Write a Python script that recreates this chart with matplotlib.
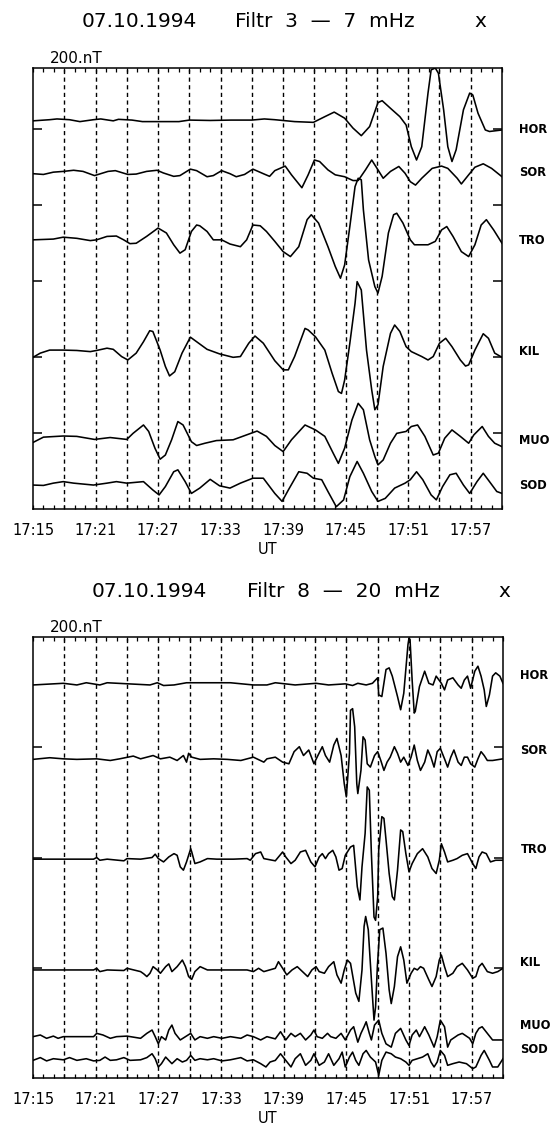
import matplotlib
matplotlib.use("Agg")
import matplotlib.pyplot as plt
from matplotlib.ticker import MultipleLocator

plt.rcParams["font.family"] = ["DejaVu Sans"]

# ---- common ----
stations = ["HOR", "SOR", "TRO", "KIL", "MUO", "SOD"]
tick_minutes = [0, 6, 12, 18, 24, 30, 36, 42]   # minutes after 17:15 UT
tick_labels = ["17:15", "17:21", "17:27", "17:33", "17:39", "17:45", "17:51", "17:57"]
date_str = "07.10.1994"

# ---- panel 1: filter 3 - 7 mHz (nT, trace offsets on the 200 nT grid) ----
p1_filter = "Filtr  3  —  7  mHz"
p1_offsets = [1021, 884, 708, 400, 187, 66]
p1_label_y = [997, 886, 707, 413, 181, 63]
p1_yticks = [200, 400, 600, 800, 1000]

p1_hor_t = [0, 1.6, 2.3, 3.5, 4.5, 5.8, 6.5, 7.7, 8.2, 9.5, 10.5, 12, 14, 15, 17, 19, 21, 22.2, 23.2, 25.1,
            26.9, 28.0, 28.9, 29.9, 30.7, 31.5, 32.3, 33.1, 33.5, 34.3, 35.2, 35.8, 36.3, 36.8, 37.3, 37.9,
            38.2, 38.6, 38.9, 39.4, 39.8, 40.2, 40.6, 41.3, 41.9, 42.2, 42.7, 43.4, 43.8, 45.0]
p1_hor_v = [0, 3, 5, 3, -2, 3, 5, 0, 4, 2, -2, -2, -2, 2, 1, 2, 2, 5, 3, -2,
            -4, 11, 23, 7, -19, -39, -15, 48, 53, 33, 11, -11, -68, -103, -68, 73,
            134, 139, 125, 29, -68, -107, -76, 29, 73, 68, 20, -24, -28, -24]

p1_sor_t = [0, 1.0, 1.95, 2.9, 3.9, 4.8, 5.9, 7.2, 7.9, 9.1, 9.9, 10.9, 11.9, 12.5, 13.5, 14.1, 15.1, 15.7,
            16.7, 17.3, 18.1, 18.9, 19.5, 20.3, 21.1, 22.1, 22.7, 23.2, 24.2, 24.8, 25.8, 26.4, 27.0, 27.5,
            28.3, 29.0, 29.9, 30.7, 31.2, 31.9, 32.5, 33.1, 33.6, 34.3, 35.1, 35.7, 36.2, 36.7, 37.3, 38.3,
            39.2, 39.8, 40.7, 41.1, 41.8, 42.4, 43.2, 44.0, 45.0]
p1_sor_v = [-2, -4, 2, 4, 7, 4, -7, 4, 6, -4, -3, 4, 7, 0, -9, -7, 10, 6,
            -10, -7, 6, -2, -10, -4, 10, -2, -9, 6, 18, -5, -39, -5, 34, 30,
            8, -5, -10, -20, -20, 8, 34, 8, -14, 4, 17, -1, -23, -32, -14, 12,
            18, 12, -14, -29, -5, 15, 24, 12, -10]

p1_tro_t = [0, 1.95, 2.9, 4.2, 5.5, 6.1, 7.1, 8.0, 8.7, 9.3, 9.9, 10.9, 12.0, 12.8, 13.5, 14.1, 14.6, 15.2,
            15.7, 16.0, 16.7, 17.3, 18.1, 18.9, 19.9, 20.5, 21.1, 21.8, 22.4, 23.2, 24.0, 24.7, 25.5, 26.3,
            26.7, 27.4, 28.3, 29.0, 29.5, 29.9, 30.4, 30.9, 31.2, 31.5, 31.7, 32.2, 32.8, 33.1, 33.5, 34.1,
            34.6, 34.9, 35.5, 36.2, 36.6, 37.9, 38.6, 39.2, 39.7, 40.3, 41.1, 41.8, 42.4, 43.0, 43.5, 44.2, 45.0]
p1_tro_v = [0, 2, 7, 4, -2, 0, 9, 10, 0, -10, -9, 9, 31, 18, -13, -35, -26, 22,
            39, 37, 22, 0, 0, -11, -18, 0, 39, 37, 22, -4, -31, -44, -18, 53,
            66, 44, -18, -70, -101, -66, 35, 140, 162, 158, 79, -53, -123, -140, -96, 18,
            66, 70, 44, 0, -13, -13, -4, 26, 35, 9, -31, -44, -13, 39, 53, 26, -9]

p1_kil_t = [0, 0.7, 1.6, 2.9, 4.2, 5.5, 6.1, 7.1, 7.7, 8.5, 9.1, 9.9, 10.6, 11.2, 11.5, 12.2, 12.7, 13.1,
            13.6, 14.3, 15.1, 15.7, 16.7, 17.9, 19.2, 19.9, 20.7, 21.3, 22.1, 23.2, 24.0, 24.5, 25.1, 26.1,
            26.4, 27.1, 28.0, 28.7, 29.3, 29.6, 29.9, 30.4, 30.9, 31.1, 31.5, 32.0, 32.5, 32.8, 33.1, 33.6,
            34.3, 34.7, 35.2, 35.8, 36.3, 37.3, 37.9, 38.4, 39.0, 39.6, 40.2, 41.0, 41.5, 41.8, 42.4, 43.2,
            43.7, 44.3, 45.0]
p1_kil_v = [-1, 10, 18, 18, 17, 14, 17, 23, 20, 1, -8, 10, 40, 69, 67, 18, -25, -50,
            -39, 10, 52, 40, 20, 8, -1, 1, 36, 55, 36, -10, -34, -34, 1, 75,
            71, 53, 18, -43, -91, -96, -61, 36, 141, 198, 176, 18, -87, -139, -126, -25,
            62, 84, 67, 27, 14, 1, -8, 1, 36, 49, 27, -8, -24, -21, 18, 61,
            49, 10, -1]

p1_muo_t = [0, 1.0, 2.9, 4.2, 5.9, 7.4, 9.0, 9.6, 10.6, 11.1, 11.7, 12.2, 12.7, 13.3, 13.9, 14.4, 15.2, 15.7,
            16.5, 17.6, 19.2, 20.5, 21.5, 22.4, 23.2, 24.0, 24.8, 26.1, 27.1, 28.0, 28.8, 29.3, 29.9, 30.6,
            31.2, 31.7, 32.3, 32.8, 33.1, 33.6, 34.3, 34.9, 35.8, 36.3, 36.9, 37.6, 38.4, 38.9, 39.5, 40.2,
            41.0, 41.8, 42.3, 43.1, 43.7, 44.3, 45.0]
p1_muo_v = [-12, 2, 5, 4, -4, 1, -4, 12, 34, 17, -27, -56, -45, -5, 43, 34, -10, -20,
            -14, -7, -5, 8, 18, 4, -20, -36, -5, 34, 21, 4, -40, -67, -27, 47,
            91, 74, -5, -49, -71, -58, -14, 12, 17, 30, 34, 4, -45, -40, -1, 21,
            4, -14, 8, 30, 4, -14, -23]

p1_sod_t = [0, 1.0, 1.95, 2.9, 3.9, 5.8, 7.1, 8.0, 9.0, 10.6, 11.5, 12.1, 12.7, 13.5, 13.9, 14.6, 15.2, 16.0,
            17.0, 17.9, 18.9, 19.9, 21.1, 22.1, 23.2, 23.9, 24.5, 25.5, 26.3, 26.9, 27.7, 28.3, 29.1, 29.8,
            30.4, 31.1, 31.7, 32.5, 33.1, 33.8, 34.7, 35.7, 36.2, 36.8, 37.4, 38.2, 38.7, 39.3, 40.0, 40.6,
            41.3, 41.9, 42.6, 43.2, 43.8, 44.5, 45.0]
p1_sod_v = [-3, -4, 2, 6, 2, -3, 2, 6, 2, 6, -16, -29, -7, 32, 37, 6, -25, -11,
            12, -5, -11, 2, 15, 15, -25, -46, -16, 32, 28, 15, 11, -20, -60, -42,
            19, 59, 28, -20, -46, -38, -11, 2, 11, 32, 11, -29, -42, -7, 24, 28,
            -3, -25, 6, 28, 6, -20, -25]

# ---- panel 2: filter 8 - 20 mHz ----
p2_filter = "Filtr  8  —  20  mHz"
p2_offsets = [717, 580, 397, 196, 74, 34]
p2_label_y = [731, 595, 414, 209, 96, 51]
p2_yticks = [200, 400, 600]

p2_hor_t = [0, 2.9, 4.2, 5.1, 6.4, 7.1, 11.2, 11.9, 12.5, 13.5, 14.7, 18.9, 21.1, 22.4, 23.2, 25.1, 27.1,
            28.3, 29.9, 30.6, 31.1, 31.9, 32.5, 33.0, 33.1, 33.4, 33.8, 34.1, 34.4, 34.9, 35.2, 35.5, 35.9,
            36.0, 36.1, 36.3, 36.5, 36.6, 37.0, 37.5, 37.9, 38.3, 38.6, 39.1, 39.4, 39.7, 40.2, 40.7, 41.0,
            41.3, 41.6, 41.9, 42.3, 42.6, 42.9, 43.2, 43.4, 43.7, 44.0, 44.3, 44.7, 45.0]
p2_hor_v = [-4, -1, -4, 0, -4, 0, -4, 0, -5, -4, 0, 0, -4, -4, 0, -4, -1,
            -4, -2, -5, -1, -4, -1, 9, -22, -25, 24, 27, 12, -25, -49, -19, 69,
            81, 78, 5, -55, -52, -7, 21, -1, -4, 12, -1, -13, 5, 9, -4, -10,
            5, 12, -10, 21, 30, 12, -13, -43, -22, 12, 18, 12, -1]

p2_sor_t = [0, 1.6, 2.9, 4.2, 6.1, 7.4, 8.3, 9.6, 10.3, 11.5, 12.2, 13.1, 13.8, 14.4, 14.7, 14.9, 15.2, 16.0,
            17.3, 18.6, 19.9, 20.5, 21.1, 22.1, 22.4, 23.2, 23.9, 24.5, 25.0, 25.5, 25.9, 26.4, 26.9, 27.2,
            27.7, 28.0, 28.4, 28.8, 29.1, 29.5, 29.8, 30.0, 30.3, 30.4, 30.6, 30.8, 31.0, 31.1, 31.4, 31.6,
            31.8, 32.0, 32.3, 32.7, 33.0, 33.3, 33.6, 33.9, 34.2, 34.6, 34.9, 35.2, 35.5, 35.9, 36.2, 36.5,
            36.8, 37.1, 37.5, 37.8, 38.1, 38.4, 38.7, 39.0, 39.4, 39.7, 40.0, 40.3, 40.7, 41.0, 41.3, 41.6,
            41.9, 42.3, 42.6, 42.9, 43.2, 43.5, 44.0, 45.0]
p2_sor_v = [-2, 1, -1, -2, -1, -4, -1, 4, -1, 5, -1, 2, -4, 5, -7, 9, 2, -2,
            -1, -2, -4, -1, 2, -7, -1, 2, -7, -10, 12, 21, 5, 15, -10, 2,
            21, 5, -7, 24, 36, 5, -46, -70, 9, 87, 90, 57, -46, -64, -22, 39,
            33, -10, -16, 5, 12, -4, -22, -7, 2, 21, 9, -7, 2, -13, 2, 24,
            -4, -22, -7, 15, 2, -16, 12, 18, -1, -16, 2, 15, -7, -13, 2, 2,
            -10, -16, -1, 12, 5, -4, -4, -1]

p2_tro_t = [0, 5.8, 6.1, 6.4, 7.1, 8.7, 9.0, 10.3, 11.4, 11.7, 12.0, 12.5, 13.0, 13.5, 13.8, 14.1, 14.4, 14.7,
            15.1, 15.2, 15.5, 16.0, 16.7, 17.6, 19.2, 20.5, 20.8, 21.3, 21.8, 22.1, 23.2, 23.9, 24.2, 24.7,
            25.1, 25.6, 26.1, 26.6, 27.0, 27.4, 27.7, 28.0, 28.3, 28.7, 29.0, 29.3, 29.6, 29.9, 30.4, 30.7,
            31.05, 31.3, 31.5, 31.8, 32.0, 32.2, 32.4, 32.65, 32.8, 33.0, 33.1, 33.4, 33.6, 33.8, 34.1, 34.4,
            34.6, 34.9, 35.2, 35.4, 35.7, 36.0, 36.3, 36.8, 37.3, 37.8, 38.2, 38.6, 38.9, 39.1, 39.4, 39.7,
            40.2, 40.6, 41.1, 41.6, 42.1, 42.4, 42.7, 43.0, 43.4, 43.8, 44.3, 45.0]
p2_tro_v = [0, 0, 3, -2, 0, -3, 1, 0, 3, 9, 1, -5, 4, 10, 7, -14, -20, -5,
            19, 13, -8, -5, 1, 0, 0, 1, -2, 10, 13, 1, -3, 13, 4, -8,
            -2, 13, 16, -5, -14, 4, 10, 1, 10, 16, 4, -20, -17, 7, 22, 25,
            -50, -74, -14, 47, 131, 125, 10, -105, -111, -68, 16, 77, 74, 35, -26, -68,
            -74, -20, 53, 50, 10, -23, -8, 10, 19, 4, -17, -26, -2, 28, 13, -5,
            -2, 1, 7, 10, -8, -17, 4, 13, 10, -5, -2, -2]

p2_kil_t = [0, 5.8, 6.1, 6.4, 7.1, 8.7, 9.0, 10.3, 10.6, 10.9, 11.2, 11.5, 11.9, 12.2, 12.7, 13.0, 13.3, 13.8,
            14.3, 14.6, 14.9, 15.2, 15.5, 16.0, 16.7, 20.5, 21.1, 21.6, 22.1, 23.2, 23.5, 23.9, 24.3, 24.8,
            25.3, 25.8, 26.3, 26.7, 27.1, 27.4, 27.9, 28.3, 28.8, 29.1, 29.5, 29.8, 30.1, 30.4, 30.9, 31.2,
            31.5, 31.7, 31.85, 32.1, 32.4, 32.65, 32.8, 32.97, 33.2, 33.5, 33.8, 34.1, 34.3, 34.6, 34.9, 35.2,
            35.5, 35.8, 36.2, 36.5, 36.8, 37.1, 37.4, 37.9, 38.2, 38.6, 38.9, 39.1, 39.4, 39.7, 40.2, 40.6,
            41.1, 41.6, 42.1, 42.4, 42.7, 43.0, 43.5, 44.0, 44.5, 45.0]
p2_kil_v = [0, 0, 3, -3, 0, -1, 3, -3, -7, -12, -6, 6, 0, -6, 6, 11, -3, 6,
            18, 6, -12, -17, -3, 6, 0, 0, -3, 3, -3, 3, 15, 3, -9, 0,
            6, -3, -12, 0, 6, -3, -6, 6, 15, -9, -24, 0, 18, 12, -42, -57,
            0, 79, 97, 73, -18, -91, -67, 6, 73, 76, 30, -36, -61, -30, 24, 42,
            18, -24, -6, 3, 0, 6, 3, -18, -30, -12, 18, 27, 6, -12, -6, 6,
            12, 0, -15, -12, 6, 12, -3, -6, -3, 3]

p2_muo_t = [0, 0.7, 1.3, 1.95, 2.4, 2.9, 5.8, 6.1, 6.7, 7.4, 8.0, 9.0, 10.3, 10.9, 11.4, 11.7, 12.0, 12.3,
            12.7, 13.0, 13.3, 13.6, 14.1, 14.6, 15.1, 15.5, 16.0, 16.7, 17.3, 18.1, 18.9, 19.9, 20.5, 21.1,
            21.8, 22.4, 23.2, 23.7, 24.2, 24.7, 25.1, 25.6, 26.1, 26.6, 26.9, 27.2, 27.7, 28.2, 28.5, 29.0,
            29.5, 29.9, 30.4, 30.7, 31.1, 31.4, 31.7, 31.9, 32.2, 32.4, 32.7, 33.1, 33.4, 33.8, 34.3, 34.7,
            35.2, 35.7, 36.0, 36.3, 36.7, 37.0, 37.5, 37.9, 38.4, 38.7, 39.0, 39.4, 39.7, 40.0, 40.7, 41.1,
            41.8, 42.1, 42.4, 42.7, 43.0, 43.5, 44.0, 45.0]
p2_muo_v = [1, 4, -2, 2, -2, 1, 1, 7, 4, -2, 1, 2, -2, 7, 13, 1, -12, 1,
            -5, 13, 22, 7, -5, 1, 7, -5, 1, -2, 1, -2, 1, -2, 4, 1,
            -5, 1, -3, 10, -5, 7, 1, 7, -5, 4, 13, 1, -2, 7, 1, -2,
            7, -5, 13, 19, -9, 7, 19, 28, 7, -5, 22, 31, 7, -12, -18, 7,
            16, -5, -15, 4, 13, 1, 19, 4, -18, 1, 31, 19, -18, -5, 4, 7,
            -2, -12, 7, 16, 19, 7, -5, -5]

p2_sod_t = [0, 0.7, 1.3, 1.95, 2.9, 3.5, 4.2, 5.1, 5.8, 6.4, 6.9, 7.4, 8.0, 8.7, 9.3, 10.3, 10.9, 11.4,
            11.7, 12.0, 12.3, 12.7, 13.0, 13.3, 13.8, 14.3, 14.7, 15.1, 15.5, 16.0, 16.7, 17.3, 18.1, 18.9,
            19.9, 20.5, 21.1, 21.8, 22.3, 22.7, 23.2, 23.7, 24.2, 24.7, 25.1, 25.6, 26.1, 26.6, 26.9, 27.4,
            27.9, 28.3, 28.8, 29.3, 29.6, 29.9, 30.3, 30.6, 30.9, 31.2, 31.6, 31.9, 32.3, 32.8, 33.1, 33.4,
            33.8, 34.3, 34.7, 35.2, 35.7, 36.0, 36.3, 36.8, 37.3, 37.8, 38.1, 38.4, 38.7, 39.0, 39.4, 39.7,
            40.2, 40.8, 41.5, 42.1, 42.4, 42.9, 43.2, 43.7, 44.0, 44.5, 45.0]
p2_sod_v = [-2, 3, -3, 1, -1, 3, -2, 1, -3, -2, 4, -2, -1, 3, -2, -1, 3, 10,
            1, -14, -8, 4, -2, -8, 1, -5, -2, 7, -2, 1, -1, 1, -3, -1,
            3, -3, -1, -8, -14, -5, -2, 10, -2, -14, 1, 10, -11, -2, 10, -11,
            -5, 10, -11, 1, 13, -14, 4, 13, -2, -11, 10, 16, 4, -5, -29, -2,
            13, 10, 4, 1, -5, -11, -2, 1, 4, 10, -5, -14, -5, 16, 7, -11,
            -8, -5, -8, -17, -14, 7, 16, -2, -14, -14, 1]

p1_traces = [(p1_hor_t, p1_hor_v), (p1_sor_t, p1_sor_v), (p1_tro_t, p1_tro_v),
             (p1_kil_t, p1_kil_v), (p1_muo_t, p1_muo_v), (p1_sod_t, p1_sod_v)]
p2_traces = [(p2_hor_t, p2_hor_v), (p2_sor_t, p2_sor_v), (p2_tro_t, p2_tro_v),
             (p2_kil_t, p2_kil_v), (p2_muo_t, p2_muo_v), (p2_sod_t, p2_sod_v)]

W, H = 550, 1124
fig = plt.figure(figsize=(W / 100, H / 100), dpi=100)


def px(x, y):
    # pixel position -> figure fraction
    return x / W, 1 - y / H


def draw_panel(rect, traces, offsets, label_y, yticks, ytop, filt, title_y, date_x, filt_x, x_x):
    ax = fig.add_axes(rect)
    ax.set_xlim(0, 45)
    ax.set_ylim(0, ytop)

    # dashed time grid every 3 minutes
    for m in range(3, 45, 3):
        ax.axvline(m, color="black", lw=1.0, ls=(0, (3, 2.5)), zorder=1)

    for (t, v), off in zip(traces, offsets):
        ax.plot(t, [off + d for d in v], color="black", lw=1.15, zorder=3)

    for name, y in zip(stations, label_y):
        ax.text(1.037, y, name, transform=ax.get_yaxis_transform(), ha="left", va="center",
                fontsize=8.3, fontweight="bold")

    ax.set_xticks(tick_minutes)
    ax.set_xticklabels(tick_labels, fontsize=10.5)
    ax.xaxis.set_minor_locator(MultipleLocator(1))
    ax.tick_params(axis="x", which="both", direction="in", top=True, bottom=True,
                   length=3, width=0.9, pad=10)
    ax.set_yticks(yticks)
    ax.tick_params(axis="y", which="major", direction="in", left=True, right=True,
                   length=6.5, width=1.1, labelleft=False)
    ax.set_xlabel("UT", fontsize=10.5, labelpad=3)
    for s in ax.spines.values():
        s.set_linewidth(1.1)

    ax.annotate("200.nT", xy=(0.036, 1.0), xycoords="axes fraction", xytext=(0, 1.5),
                textcoords="offset points", ha="left", va="bottom", fontsize=11)

    fig.text(*px(date_x, title_y), date_str, ha="left", va="baseline", fontsize=14.5)
    fig.text(*px(filt_x, title_y), filt, ha="left", va="baseline", fontsize=14.5)
    fig.text(*px(x_x, title_y), "x", ha="center", va="baseline", fontsize=14.5)
    return ax


draw_panel([33 / W, 1 - 509 / H, 469 / W, 441 / H], p1_traces, p1_offsets, p1_label_y,
           p1_yticks, 1160, p1_filter, 27, 82, 235, 480)
draw_panel([33 / W, 1 - 1078 / H, 470 / W, 441 / H], p2_traces, p2_offsets, p2_label_y,
           p2_yticks, 800, p2_filter, 597, 92, 247, 504)

fig.savefig("out.png", dpi=100)
